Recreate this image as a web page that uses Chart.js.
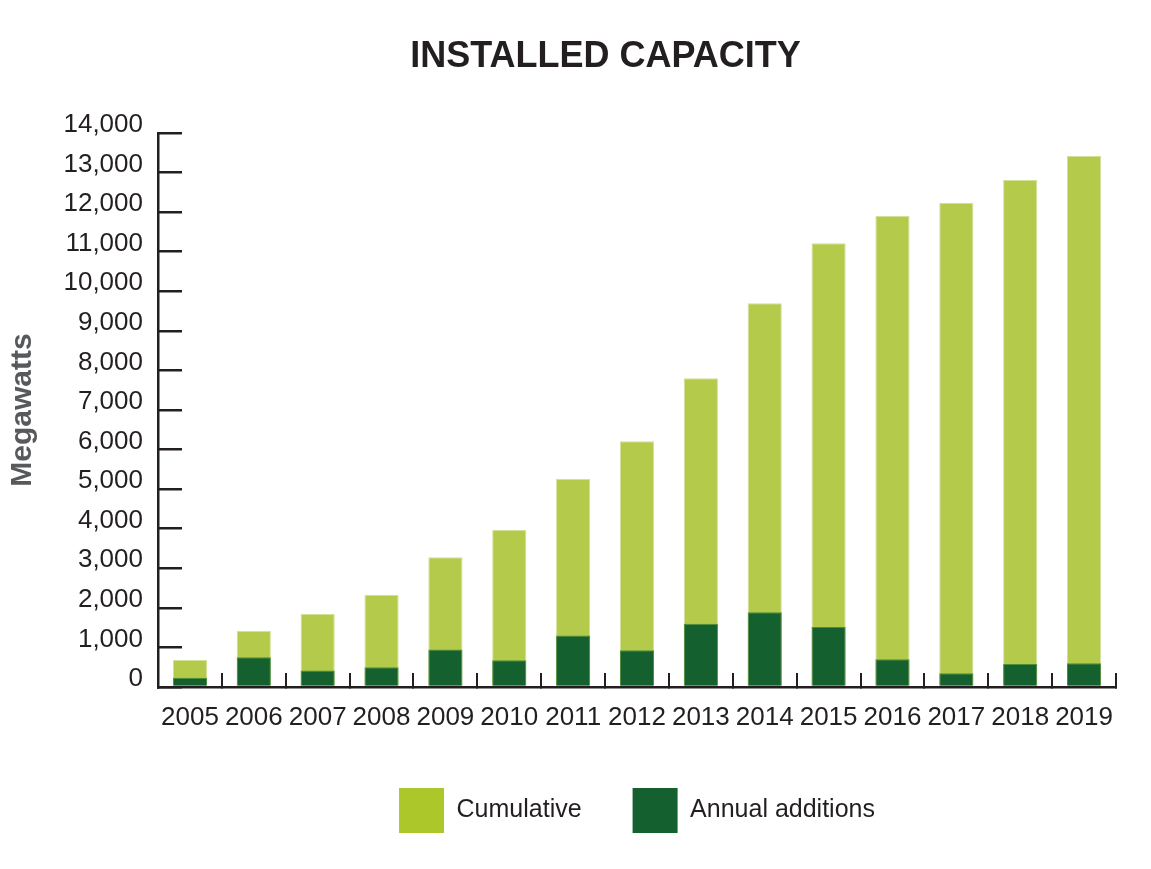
<!doctype html>
<html>

<head>
	<title>Installed Capacity</title>
	<script src="https://cdn.jsdelivr.net/npm/chart.js@4/dist/chart.umd.min.js"></script>
	<style>
	body {
		margin: 0;
		background: #fff;
	}
	canvas {
		display: block;
	}
	</style>
</head>

<body>
	<canvas id="chart" width="1151" height="869"></canvas>
	<script>
		var years = ['2005', '2006', '2007', '2008', '2009', '2010', '2011', '2012', '2013', '2014', '2015', '2016', '2017', '2018', '2019'];
		var cumulative = [680, 1420, 1845, 2330, 3280, 3970, 5265, 6210, 7800, 9700, 11215, 11900, 12240, 12810, 13420];
		var annualAdditions = [235, 750, 420, 500, 945, 675, 1300, 930, 1600, 1890, 1515, 700, 345, 580, 600];

		var sans = "'Liberation Sans', Arial, sans-serif";
		var ink = '#231f20';
		var lightGreen = '#b3ca4a';
		var darkGreen = '#14602f';
		var legendColors = ['#abc72a', '#14602f'];

		window.onload = function() {
			var ctx = document.getElementById('chart').getContext('2d');
			var baseLabels = Chart.defaults.plugins.legend.labels.generateLabels;

			new Chart(ctx, {
				type: 'bar',
				data: {
					labels: years,
					datasets: [{
						label: 'Cumulative',
						data: cumulative,
						backgroundColor: lightGreen,
						borderColor: '#d3e09a',
						borderWidth: 1,
						grouped: false,
						order: 1
					}, {
						label: 'Annual additions',
						data: annualAdditions,
						backgroundColor: darkGreen,
						borderColor: '#4e8d3e',
						borderWidth: 1,
						grouped: false,
						order: 0
					}]
				},
				options: {
					responsive: false,
					animation: false,
					categoryPercentage: 1,
					barPercentage: 0.535,
					layout: {
						padding: {left: 60, right: 0, top: 0, bottom: 26}
					},
					plugins: {
						tooltip: {enabled: false},
						title: {
							display: true,
							text: 'INSTALLED CAPACITY',
							color: ink,
							font: {family: sans, size: 36, weight: 'bold'},
							padding: {top: 35, bottom: 54.8}
						},
						legend: {
							position: 'bottom',
							fullSize: false,
							labels: {
								boxWidth: 45,
								boxHeight: 45,
								padding: 51,
								color: ink,
								font: {family: sans, size: 25},
								sort: function(a, b) { return a.datasetIndex - b.datasetIndex; },
								generateLabels: function(chart) {
									return baseLabels(chart).map(function(item) {
										item.fillStyle = legendColors[item.datasetIndex];
										item.lineWidth = 0;
										return item;
									});
								}
							}
						}
					},
					scales: {
						x: {
							grid: {
								offset: true,
								drawOnChartArea: false,
								tickLength: -14,
								color: ink,
								lineWidth: 2
							},
							border: {color: ink, width: 2.5},
							ticks: {
								color: ink,
								font: {family: sans, size: 26},
								padding: 29,
								maxRotation: 0,
								autoSkip: false
							},
							afterFit: function(scale) { scale.height = 50; }
						},
						y: {
							min: 0,
							max: 14000,
							grid: {
								drawOnChartArea: false,
								tickLength: -24,
								color: ink,
								lineWidth: 2.5
							},
							border: {color: ink, width: 2.5},
							ticks: {
								stepSize: 1000,
								color: ink,
								font: {family: sans, size: 26},
								padding: 39,
								labelOffset: -8
							},
							title: {
								display: true,
								text: 'Megawatts',
								color: '#58595b',
								font: {family: sans, size: 30, weight: 'bold'},
								padding: {top: -55, bottom: 0}
							},
							afterFit: function(scale) { scale.width = 98; }
						},
						// empty right-hand margin so the plot ends where the original does
						yRight: {
							position: 'right',
							grid: {display: false},
							border: {display: false},
							ticks: {display: false},
							afterFit: function(scale) { scale.width = 35; }
						}
					}
				}
			});
		};
	</script>
</body>

</html>
